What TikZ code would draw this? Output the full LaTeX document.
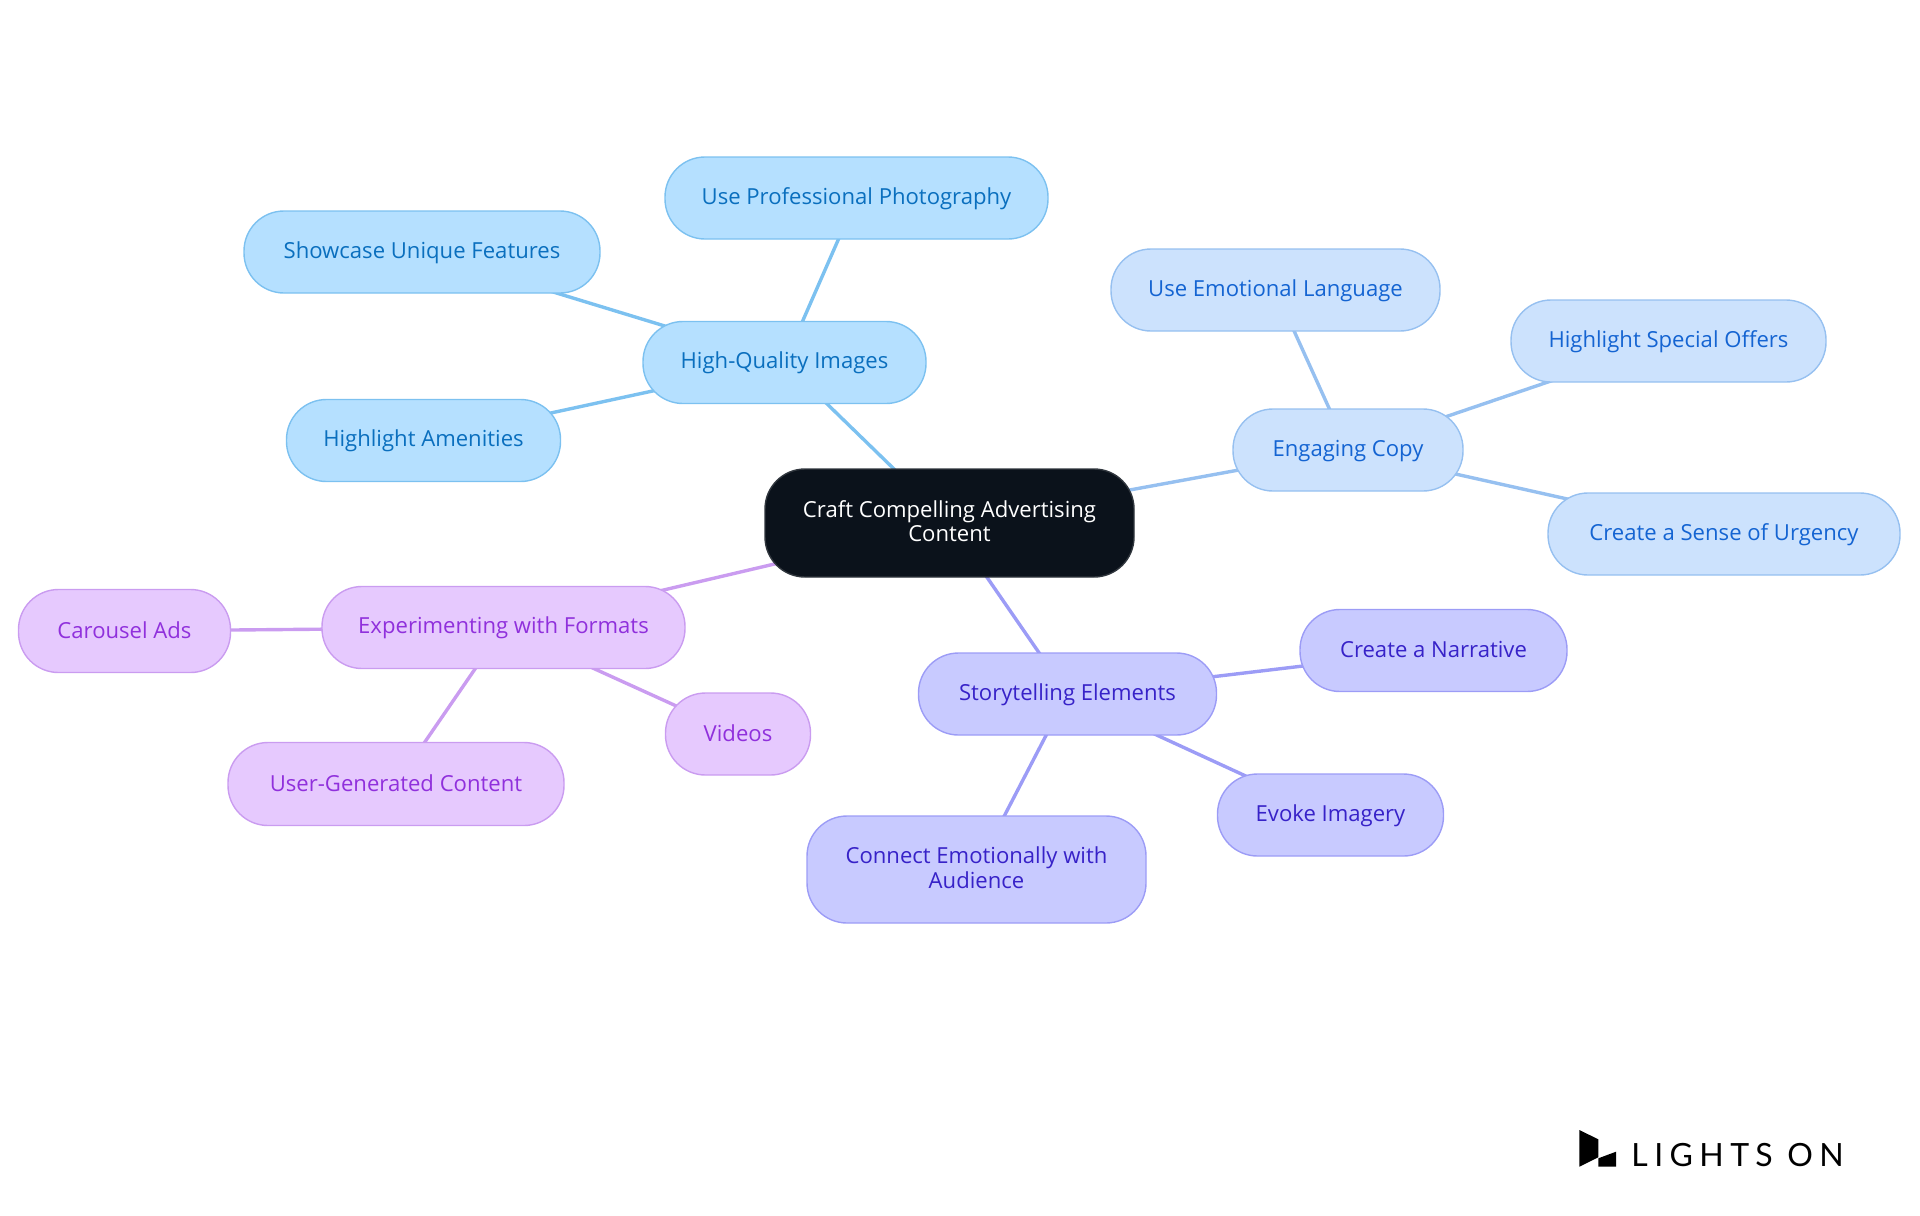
\documentclass[tikz,border=0pt]{standalone}
\usepackage{fontspec}
\setmainfont{Open Sans}
\newfontfamily\logofont[LetterSpace=20]{Lato}
\usetikzlibrary{backgrounds}
\definecolor{rootfill}{HTML}{0B121B}
\definecolor{skyfill}{HTML}{B5E0FF}
\definecolor{skyline}{HTML}{7CC1F0}
\definecolor{skytext}{HTML}{0A6FBE}
\definecolor{palefill}{HTML}{CCE2FD}
\definecolor{paleline}{HTML}{96C0F0}
\definecolor{paletext}{HTML}{1464D2}
\definecolor{indigofill}{HTML}{C8CAFF}
\definecolor{indigoline}{HTML}{9C9CF6}
\definecolor{indigotext}{HTML}{3722C8}
\definecolor{violetfill}{HTML}{E6C9FE}
\definecolor{violetline}{HTML}{CA9CF0}
\definecolor{violettext}{HTML}{9030DC}
\newcommand{\pillstrut}{\rule[-2pt]{0pt}{11pt}}
\tikzset{
	pill/.style={rounded corners=20pt, line width=0.7pt, align=center, inner sep=0pt, font=\fontsize{11.05}{12.2}\selectfont, execute at begin node=\pillstrut, execute at end node=\pillstrut},
	rootpill/.style={pill, fill=rootfill, draw=rootfill!85!white, text=white},
	skypill/.style={pill, fill=skyfill, draw=skyline, text=skytext},
	palepill/.style={pill, fill=palefill, draw=paleline, text=paletext},
	indigopill/.style={pill, fill=indigofill, draw=indigoline, text=indigotext},
	violetpill/.style={pill, fill=violetfill, draw=violetline, text=violettext},
	link/.style={line width=1.7pt}
}
\begin{document}
\begin{tikzpicture}[x=0.5pt, y=-0.5pt]
	\useasboundingbox (0,0) rectangle (1920,1215);

	\node[rootpill, minimum width=184.5pt, minimum height=54pt] (craft) at (949.5,523) {Craft Compelling Advertising\\Content};

	% images
	\node[skypill, minimum width=141.5pt, minimum height=41pt] (images) at (784.5,362.5) {High-Quality Images};
	\node[skypill, minimum width=191.5pt, minimum height=41pt] (photo) at (856.5,198) {Use Professional Photography};
	\node[skypill, minimum width=178pt, minimum height=41pt] (unique) at (422,252) {Showcase Unique Features};
	\node[skypill, minimum width=137pt, minimum height=41pt] (amenities) at (423.5,440.5) {Highlight Amenities};

	% copy
	\node[palepill, minimum width=115pt, minimum height=41pt] (copy) at (1348,450) {Engaging Copy};
	\node[palepill, minimum width=164.5pt, minimum height=41pt] (language) at (1275.5,290) {Use Emotional Language};
	\node[palepill, minimum width=157.5pt, minimum height=41pt] (offers) at (1668.5,341) {Highlight Special Offers};
	\node[palepill, minimum width=176pt, minimum height=41pt] (urgency) at (1724,534) {Create a Sense of Urgency};

	% story
	\node[indigopill, minimum width=149pt, minimum height=41pt] (story) at (1067.5,694) {Storytelling Elements};
	\node[indigopill, minimum width=133.5pt, minimum height=41pt] (narrative) at (1433.5,650.5) {Create a Narrative};
	\node[indigopill, minimum width=113pt, minimum height=41pt] (imagery) at (1330.5,815) {Evoke Imagery};
	\node[indigopill, minimum width=169.5pt, minimum height=53.5pt] (audience) at (976.5,869.5) {Connect Emotionally with\\Audience};

	% formats
	\node[violetpill, minimum width=181.5pt, minimum height=41pt] (formats) at (503.5,627.5) {Experimenting with Formats};
	\node[violetpill, minimum width=106pt, minimum height=41.5pt] (carousel) at (124.5,631) {Carousel Ads};
	\node[violetpill, minimum width=72.5pt, minimum height=41pt] (videos) at (738,734) {Videos};
	\node[violetpill, minimum width=168pt, minimum height=41.5pt] (ugc) at (396,784) {User-Generated Content};

	\begin{scope}[on background layer]
		\foreach \a/\b in {craft/images, images/photo, images/unique, images/amenities}
			\draw[link, skyline] (\a.center) -- (\b.center);
		\foreach \a/\b in {craft/copy, copy/language, copy/offers, copy/urgency}
			\draw[link, paleline] (\a.center) -- (\b.center);
		\foreach \a/\b in {craft/story, story/narrative, story/imagery, story/audience}
			\draw[link, indigoline] (\a.center) -- (\b.center);
		\foreach \a/\b in {craft/formats, formats/carousel, formats/videos, formats/ugc}
			\draw[link, violetline] (\a.center) -- (\b.center);
	\end{scope}

	% logo
	\fill[black] (1579.3,1130) -- (1598.3,1139.3) -- (1598.3,1157.3) -- (1579.3,1166.7) -- cycle;
	\fill[black] (1598.3,1158.3) -- (1616,1151.7) -- (1616,1166.7) -- (1598.3,1166.7) -- cycle;
	\node[anchor=base west, inner sep=0pt, font=\logofont\fontsize{16}{16}\selectfont] (logo) at (1631,1166.7) {LIGHTS ON};
\end{tikzpicture}
\end{document}
